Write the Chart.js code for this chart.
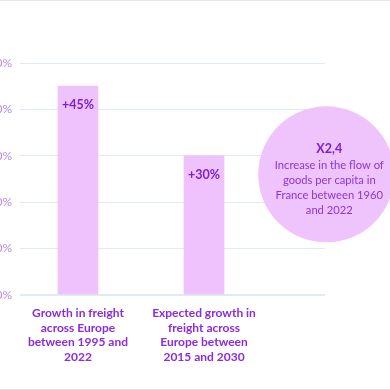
<!DOCTYPE html>
<html>
<head>
<meta charset="utf-8">
<script src="https://cdn.jsdelivr.net/npm/chart.js@4/dist/chart.umd.min.js"></script>
<style>
  html, body { margin: 0; padding: 0; background: #fff; }
  #wrap { position: relative; width: 390px; height: 390px; overflow: hidden;
          border-top: 1px solid #e6e6e6; border-bottom: 1px solid #e6e6e6; box-sizing: border-box; }
  #chart { position: absolute; left: -40px; top: -1px; }
</style>
</head>
<body>
<div id="wrap"><canvas id="chart" width="430" height="390"></canvas></div>
<script>
const categories = [
  ["Growth in freight", "across Europe", "between 1995 and", "2022"],
  ["Expected growth in", "freight across", "Europe between", "2015 and 2030"]
];
const values = [45, 30];
const valueLabels = ["+45%", "+30%"];
const yTicks = [0, 10, 20, 30, 40, 50];
const calloutTitle = "X2,4";
const calloutText = ["Increase in the flow of", "goods per capita in", "France between 1960", "and 2022"];

const barColor = "#efc2fd";
const FONT = "Lato, 'Open Sans', sans-serif";

const valueLabelPlugin = {
  id: "valueLabels",
  afterDatasetsDraw(chart) {
    const ctx = chart.ctx;
    const meta = chart.getDatasetMeta(0);
    ctx.save();
    ctx.font = "bold 12.5px " + FONT;
    ctx.fillStyle = "#7a22d2";
    ctx.textAlign = "center";
    ctx.textBaseline = "middle";
    meta.data.forEach((bar, i) => {
      ctx.fillText(valueLabels[i], bar.x, bar.y + 19);
    });
    ctx.restore();
  }
};

// the circle callout on the right
const calloutPlugin = {
  id: "callout",
  afterDraw(chart) {
    const ctx = chart.ctx;
    const xs = chart.scales.x, ys = chart.scales.y;
    const cx = xs.getPixelForValue(1.97), cy = ys.getPixelForValue(26);
    ctx.save();
    ctx.beginPath();
    ctx.arc(cx, cy, 68, 0, Math.PI * 2);
    ctx.fillStyle = "#efc3fb";
    ctx.fill();
    ctx.textAlign = "center";
    ctx.textBaseline = "middle";
    ctx.fillStyle = "#7a22d2";
    ctx.font = "bold 12.5px " + FONT;
    const tx = cx + 3;
    ctx.fillText(calloutTitle, tx, cy - 25);
    ctx.font = "11.2px " + FONT;
    ctx.fillStyle = "#8a36da";
    calloutText.forEach((t, i) => ctx.fillText(t, tx, cy - 9 + i * 15));
    ctx.restore();
  }
};

new Chart(document.getElementById("chart"), {
  type: "bar",
  data: {
    datasets: [{
      data: values.map((v, i) => ({ x: i, y: v })),
      backgroundColor: barColor,
      borderWidth: 0,
      barThickness: 40
    }]
  },
  options: {
    responsive: false,
    animation: false,
    layout: { padding: { top: 63, right: 65, bottom: 0, left: 0 } },
    plugins: { legend: { display: false }, tooltip: { enabled: false } },
    scales: {
      x: {
        type: "linear",
        min: -0.46,
        max: 1.96,
        offset: false,
        afterBuildTicks: (scale) => { scale.ticks = categories.map((c, i) => ({ value: i })); },
        afterFit: (scale) => { scale.height = 95; },
        grid: { display: false, offset: false },
        border: { display: false },
        ticks: {
          padding: 3,
          maxRotation: 0,
          autoSkip: false,
          color: "#8a2be2",
          font: { family: FONT, size: 12, weight: "bold", lineHeight: 1.22 },
          callback: (v) => categories[v]
        }
      },
      y: {
        min: 0,
        max: 50,
        afterBuildTicks: (scale) => { scale.ticks = yTicks.map(v => ({ value: v })); },
        afterFit: (scale) => { scale.width = 60; },
        grid: { color: "#deeaf6", lineWidth: (c) => c.tick && c.tick.value === 0 ? 2 : 1, drawTicks: false },
        border: { display: false },
        ticks: {
          padding: 8,
          color: "#b58ae8",
          font: { family: FONT, size: 12 },
          callback: (v) => v + "%"
        }
      }
    }
  },
  plugins: [valueLabelPlugin, calloutPlugin]
});
</script>
</body>
</html>
